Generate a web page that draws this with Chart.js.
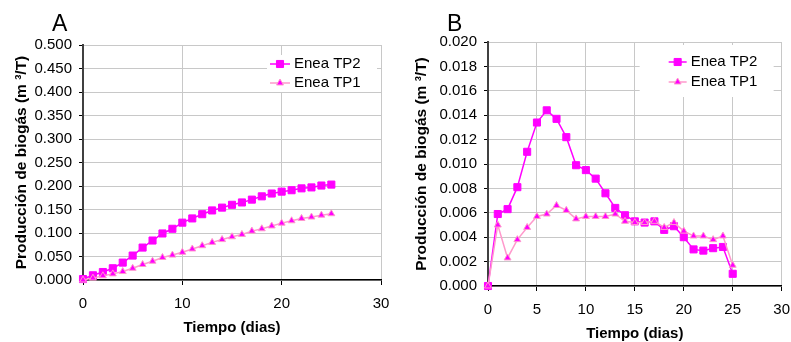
<!DOCTYPE html>
<html>
<head>
<meta charset="utf-8">
<script src="https://cdn.jsdelivr.net/npm/chart.js@4"></script>
<style>
  html, body { margin: 0; padding: 0; background: #fff; overflow: hidden; }
  body { width: 791px; height: 342px; position: relative; }
  canvas { position: absolute; top: 0; }
  .letter { position: absolute; top: 12px; font: 23px/1 "Liberation Sans", Arial, sans-serif; color: #000; }
</style>
</head>
<body>
<canvas id="chartA" width="400" height="342" style="left:0"></canvas>
<canvas id="chartB" width="400" height="350" style="left:400px"></canvas>
<div class="letter" style="left:52px">A</div>
<div class="letter" style="left:447px">B</div>
<script>
const days = [0, 1, 2, 3, 4, 5, 6, 7, 8, 9, 10, 11, 12, 13, 14, 15, 16, 17, 18, 19, 20, 21, 22, 23, 24, 25];
const seriesNames = ["Enea TP2", "Enea TP1"];

// A: acumulado
const cumTP2 = [0.002, 0.010, 0.017, 0.025, 0.037, 0.052, 0.069, 0.084, 0.099, 0.109, 0.122, 0.131, 0.140,
  0.148, 0.154, 0.160, 0.165, 0.171, 0.178, 0.184, 0.188, 0.191, 0.195, 0.197, 0.201, 0.203];
const cumTP1 = [0.000, 0.004, 0.009, 0.013, 0.018, 0.025, 0.033, 0.040, 0.048, 0.053, 0.059, 0.066, 0.073,
  0.080, 0.086, 0.092, 0.097, 0.104, 0.109, 0.115, 0.121, 0.126, 0.131, 0.134, 0.138, 0.141];

// B: diario
const dailyTP2 = [0.0000, 0.0059, 0.0063, 0.0081, 0.0110, 0.0134, 0.0144, 0.0137, 0.0122, 0.0099, 0.0095,
  0.0088, 0.0076, 0.0064, 0.0058, 0.0053, 0.0052, 0.0053, 0.0046, 0.0049, 0.0040, 0.0030, 0.0029, 0.0031,
  0.0032, 0.0010];
const dailyTP1 = [0.0000, 0.0050, 0.0023, 0.0038, 0.0048, 0.0057, 0.0059, 0.0066, 0.0062, 0.0055, 0.0057,
  0.0057, 0.0057, 0.0059, 0.0053, 0.0052, 0.0052, 0.0053, 0.0048, 0.0052, 0.0045, 0.0041, 0.0041, 0.0038,
  0.0041, 0.0017];

Chart.defaults.font.family = "'Liberation Sans', Arial, sans-serif";
Chart.defaults.color = "#000";

const toPoints = vals => days.map((d, i) => ({ x: d, y: vals[i] }));

// legend drawn inside the plot, over a white box, like the original
const boxLegend = {
  id: "boxLegend",
  afterDatasetsDraw(chart, args, opts) {
    const { ctx, chartArea } = chart;
    ctx.save();
    ctx.fillStyle = "#fff";
    ctx.fillRect(chartArea.right - opts.box[0], chartArea.top + opts.box[1], opts.box[2], opts.box[3]);
    chart.data.datasets.forEach((ds, i) => {
      const y = chartArea.top + opts.firstRow + i * opts.rowGap;
      const x0 = chartArea.right - opts.lineStart;
      const xm = x0 + opts.lineLength / 2;
      ctx.strokeStyle = ds.borderColor;
      ctx.lineWidth = ds.borderWidth;
      ctx.beginPath();
      ctx.moveTo(x0, y);
      ctx.lineTo(x0 + opts.lineLength, y);
      ctx.stroke();
      ctx.fillStyle = ds.pointBackgroundColor;
      ctx.strokeStyle = ds.pointBorderColor;
      ctx.lineWidth = 1;
      ctx.beginPath();
      if (ds.pointStyle === "rect") {
        const s = ds.pointRadius * Math.SQRT1_2;
        ctx.rect(xm - s, y - s, 2 * s, 2 * s);
      } else {
        const r = ds.pointRadius;
        ctx.moveTo(xm, y - r);
        ctx.lineTo(xm + r * Math.sin(2 * Math.PI / 3), y + r / 2);
        ctx.lineTo(xm - r * Math.sin(2 * Math.PI / 3), y + r / 2);
        ctx.closePath();
      }
      ctx.fill();
      ctx.stroke();
      ctx.fillStyle = "#000";
      ctx.font = "15px 'Liberation Sans', Arial, sans-serif";
      ctx.textBaseline = "middle";
      ctx.fillText(ds.label, x0 + opts.lineLength + 4, y);
    });
    ctx.restore();
  }
};

function makeDatasets(tp2, tp1) {
  return [
    {
      label: seriesNames[0], data: toPoints(tp2), order: 1, clip: false,
      borderColor: "#FF00FF", borderWidth: 1.5,
      pointStyle: "rect", pointRadius: 5, pointBorderWidth: 1,
      pointBackgroundColor: "#FF00FF", pointBorderColor: "#FF00FF"
    },
    {
      label: seriesNames[1], data: toPoints(tp1), order: 0, clip: false,
      borderColor: "#FF99CC", borderWidth: 1.5,
      pointStyle: "triangle", pointRadius: 4, pointBorderWidth: 1,
      pointBackgroundColor: "#FF00FF", pointBorderColor: "#FF99CC"
    }
  ];
}

function makeChart(id, cfg) {
  return new Chart(document.getElementById(id), {
    type: "line",
    data: { datasets: makeDatasets(cfg.tp2, cfg.tp1) },
    plugins: [boxLegend],
    options: {
      responsive: false,
      animation: false,
      layout: { padding: cfg.padding },
      elements: { line: { tension: 0 } },
      plugins: {
        legend: { display: false },
        tooltip: { enabled: false },
        boxLegend: cfg.legend
      },
      scales: {
        x: {
          type: "linear", min: 0, max: 30,
          ticks: { stepSize: cfg.xStep, padding: 10, font: { size: 15 } },
          grid: { color: "#c8c8c8", tickColor: "#000", tickLength: 5 },
          border: { color: "#000", width: 1.5 },
          title: {
            display: true, text: "Tiempo (dias)", color: "#000",
            font: { size: 15, weight: "bold" }, padding: { top: 0, bottom: cfg.titleBottom }
          },
          afterFit: s => { s.height = cfg.xHeight; }
        },
        y: {
          min: 0, max: cfg.yMax,
          ticks: { stepSize: cfg.yStep, padding: 7, font: { size: 15 }, callback: v => Number(v).toFixed(3) },
          grid: { color: "#c8c8c8", tickColor: "#000", tickLength: 4 },
          border: { color: "#404040", width: 2 },
          title: {
            display: true, text: "Producción de biogás (m ³/T)", color: "#000",
            font: { size: 15.5, weight: "bold" }, padding: { top: 12, bottom: 0 }
          },
          afterFit: s => { s.width = cfg.yWidth; }
        }
      }
    }
  });
}

makeChart("chartA", {
  tp2: cumTP2, tp1: cumTP1, yMax: 0.5, yStep: 0.05, xStep: 10,
  padding: { top: 45, right: 19, left: 0, bottom: 0 },
  yWidth: 83, xHeight: 62, titleBottom: 5,
  legend: { box: [114, 10, 110, 37], firstRow: 19, rowGap: 19, lineStart: 111, lineLength: 20 }
});

makeChart("chartB", {
  tp2: dailyTP2, tp1: dailyTP1, yMax: 0.02, yStep: 0.002, xStep: 5,
  padding: { top: 42, right: 15, left: 0, bottom: 0 },
  yWidth: 88, xHeight: 64, titleBottom: 7,
  legend: { box: [142, 3, 134, 52], firstRow: 20, rowGap: 20, lineStart: 113, lineLength: 18 }
});
</script>
</body>
</html>
